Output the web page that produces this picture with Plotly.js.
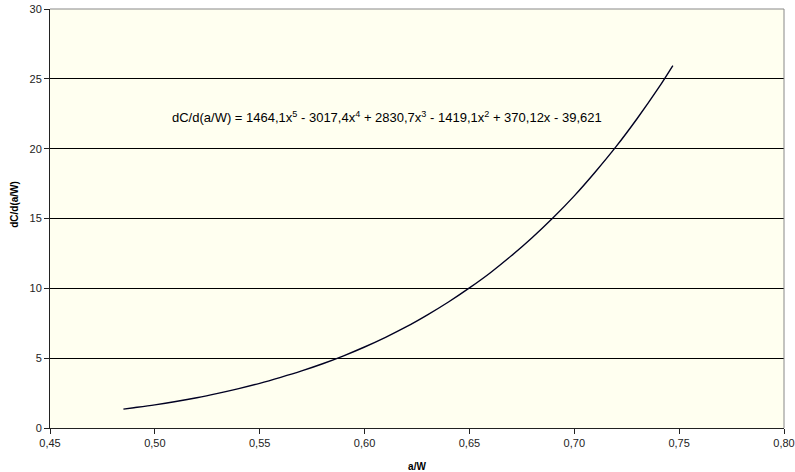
<!DOCTYPE html>
<html>
<head>
<meta charset="utf-8">
<script src="https://cdn.plot.ly/plotly-3.0.1.min.js"></script>
<style>html,body{margin:0;padding:0;background:#fff;}#chart{width:795px;height:472px;}</style>
</head>
<body>
<div id="chart"></div>
<script>
var aW = [0.485, 0.49, 0.50, 0.51, 0.52, 0.53, 0.54, 0.55, 0.56, 0.57, 0.58, 0.59, 0.60, 0.61, 0.62, 0.63, 0.64, 0.65, 0.66, 0.67, 0.68, 0.69, 0.70, 0.71, 0.72, 0.73, 0.74, 0.747];
var dCdaW = [1.35, 1.45, 1.66, 1.90, 2.17, 2.48, 2.82, 3.20, 3.63, 4.09, 4.60, 5.17, 5.80, 6.49, 7.25, 8.10, 9.02, 10.03, 11.12, 12.33, 13.64, 15.07, 16.62, 18.33, 20.16, 22.16, 24.31, 25.95];
var xTickVals = [0.45, 0.50, 0.55, 0.60, 0.65, 0.70, 0.75, 0.80];
var xTickText = ['0,45', '0,50', '0,55', '0,60', '0,65', '0,70', '0,75', '0,80'];
var yTickVals = [0, 5, 10, 15, 20, 25, 30];
var xTitle = 'a/W';
var yTitle = 'dC/d(a/W)';
var equationText = 'dC/d(a/W) = 1464,1x<sup>5</sup> - 3017,4x<sup>4</sup> + 2830,7x<sup>3</sup> - 1419,1x<sup>2</sup> + 370,12x - 39,621';

var FONT = 'Liberation Sans, Arial, sans-serif';

var trace = {
  x: aW, y: dCdaW, type: 'scatter', mode: 'lines',
  line: {color: '#000022', width: 1.4, shape: 'spline'},
  hoverinfo: 'none'
};

var layout = {
  width: 795, height: 472,
  margin: {l: 50, r: 11, t: 9, b: 44},
  paper_bgcolor: '#ffffff',
  plot_bgcolor: '#FFFFF0',
  font: {family: FONT, color: '#222', size: 11},
  showlegend: false,
  xaxis: {
    range: [0.45, 0.80], tickvals: xTickVals, ticktext: xTickText,
    showgrid: false, zeroline: false,
    showline: true, linecolor: '#222', linewidth: 1,
    ticks: 'outside', ticklen: 5, tickcolor: '#222',
    tickfont: {size: 11, color: '#222'},
    title: {text: xTitle, font: {size: 10, color: '#000', family: FONT, weight: 'bold'}, standoff: 14}
  },
  yaxis: {
    range: [0, 30], tickvals: yTickVals,
    showgrid: true, gridcolor: '#000', gridwidth: 1, zeroline: false,
    showline: true, linecolor: '#222', linewidth: 1,
    ticks: 'outside', ticklen: 5, tickcolor: '#222',
    tickfont: {size: 11, color: '#222'}
  },
  shapes: [
    {type: 'line', xref: 'paper', yref: 'paper', x0: 0, x1: 1, y0: 1, y1: 1, line: {color: '#888', width: 1}},
    {type: 'line', xref: 'paper', yref: 'paper', x0: 1, x1: 1, y0: 0, y1: 1, line: {color: '#888', width: 1}}
  ],
  annotations: [{
    xref: 'paper', yref: 'paper', x: 0.459, y: 0.743,
    xanchor: 'center', yanchor: 'middle', showarrow: false,
    text: equationText,
    font: {size: 13, color: '#000', family: FONT}
  }, {
    xref: 'paper', yref: 'paper', x: -0.0477, y: 0.535,
    xanchor: 'center', yanchor: 'middle', showarrow: false, textangle: -90,
    text: '<b>' + yTitle + '</b>',
    font: {size: 10, color: '#000', family: FONT}
  }]
};

Plotly.newPlot('chart', [trace], layout, {staticPlot: true, displayModeBar: false});
</script>
</body>
</html>
